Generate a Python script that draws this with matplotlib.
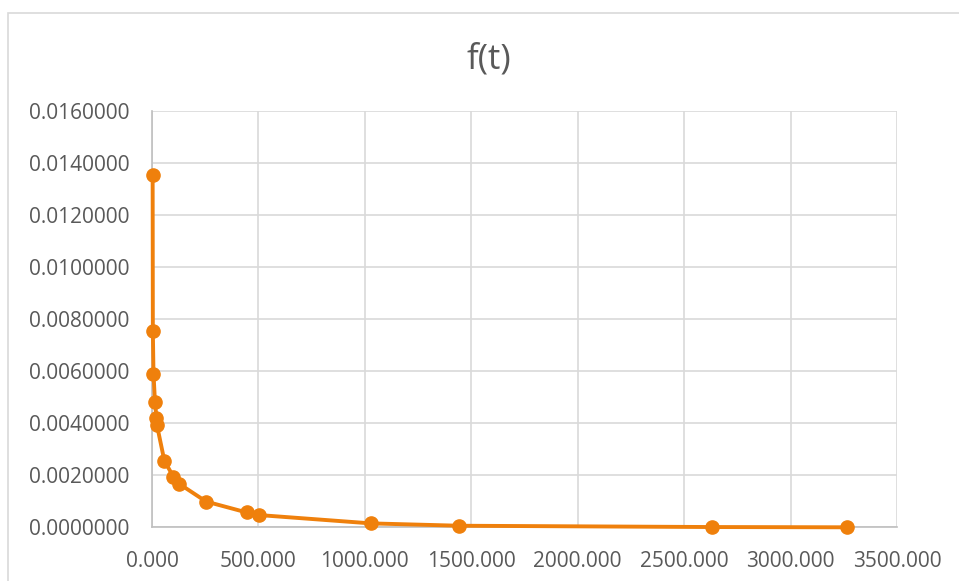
import matplotlib
matplotlib.use("Agg")
import matplotlib.pyplot as plt
from matplotlib.patches import Rectangle
from matplotlib.ticker import FormatStrFormatter, MultipleLocator

# values
t_values = [3, 4, 7, 14, 21, 23, 58, 100, 128, 254, 445, 504, 1029, 1444, 2630, 3266]
f_values = [0.01354, 0.00754, 0.00591, 0.00482, 0.00420, 0.00394, 0.00256, 0.00195,
            0.00167, 0.00099, 0.00057, 0.00047, 0.00015, 0.00006, 0.00001, 0.00000]
title = "f(t)"

orange = "#EF800C"
grid_grey = "#D9D9D9"
text_grey = "#595959"

plt.rcParams["font.family"] = ["Open Sans", "DejaVu Sans"]

fig = plt.figure(figsize=(9.59, 5.81), dpi=100)
ax = fig.add_axes([152 / 959, 1 - 527.3 / 581, (897 - 152) / 959, (527.3 - 111) / 581])

# outer chart border (cut off on the right, as in the reference)
fig.patches.append(Rectangle((8 / 959, -0.05), 1.1, 1.05 - 13 / 581, transform=fig.transFigure,
                             fill=False, edgecolor=grid_grey, linewidth=1.2))

ax.plot(t_values, f_values, color=orange, linewidth=2.8, marker="o", markersize=9.5,
        markeredgecolor=orange, markerfacecolor=orange, zorder=3, clip_on=False)

ax.set_xlim(0, 3500)
ax.set_ylim(0, 0.016)
ax.xaxis.set_major_locator(MultipleLocator(500))
ax.yaxis.set_major_locator(MultipleLocator(0.002))
ax.xaxis.set_major_formatter(FormatStrFormatter("%.3f"))
ax.yaxis.set_major_formatter(FormatStrFormatter("%.7f"))

ax.grid(True, color=grid_grey, linewidth=1.2)
ax.set_axisbelow(True)
for side in ["top", "right"]:
    ax.spines[side].set_visible(False)
for side in ["left", "bottom"]:
    ax.spines[side].set_color("#BFBFBF")
    ax.spines[side].set_linewidth(1.2)

ax.tick_params(axis="both", length=0, labelsize=15, labelcolor=text_grey)
ax.tick_params(axis="x", pad=17)
ax.tick_params(axis="y", pad=16)

fig.text(489 / 959, 1 - 60 / 581, title, ha="center", va="center", fontsize=25, color=text_grey)

fig.savefig("out.png", dpi=100)
